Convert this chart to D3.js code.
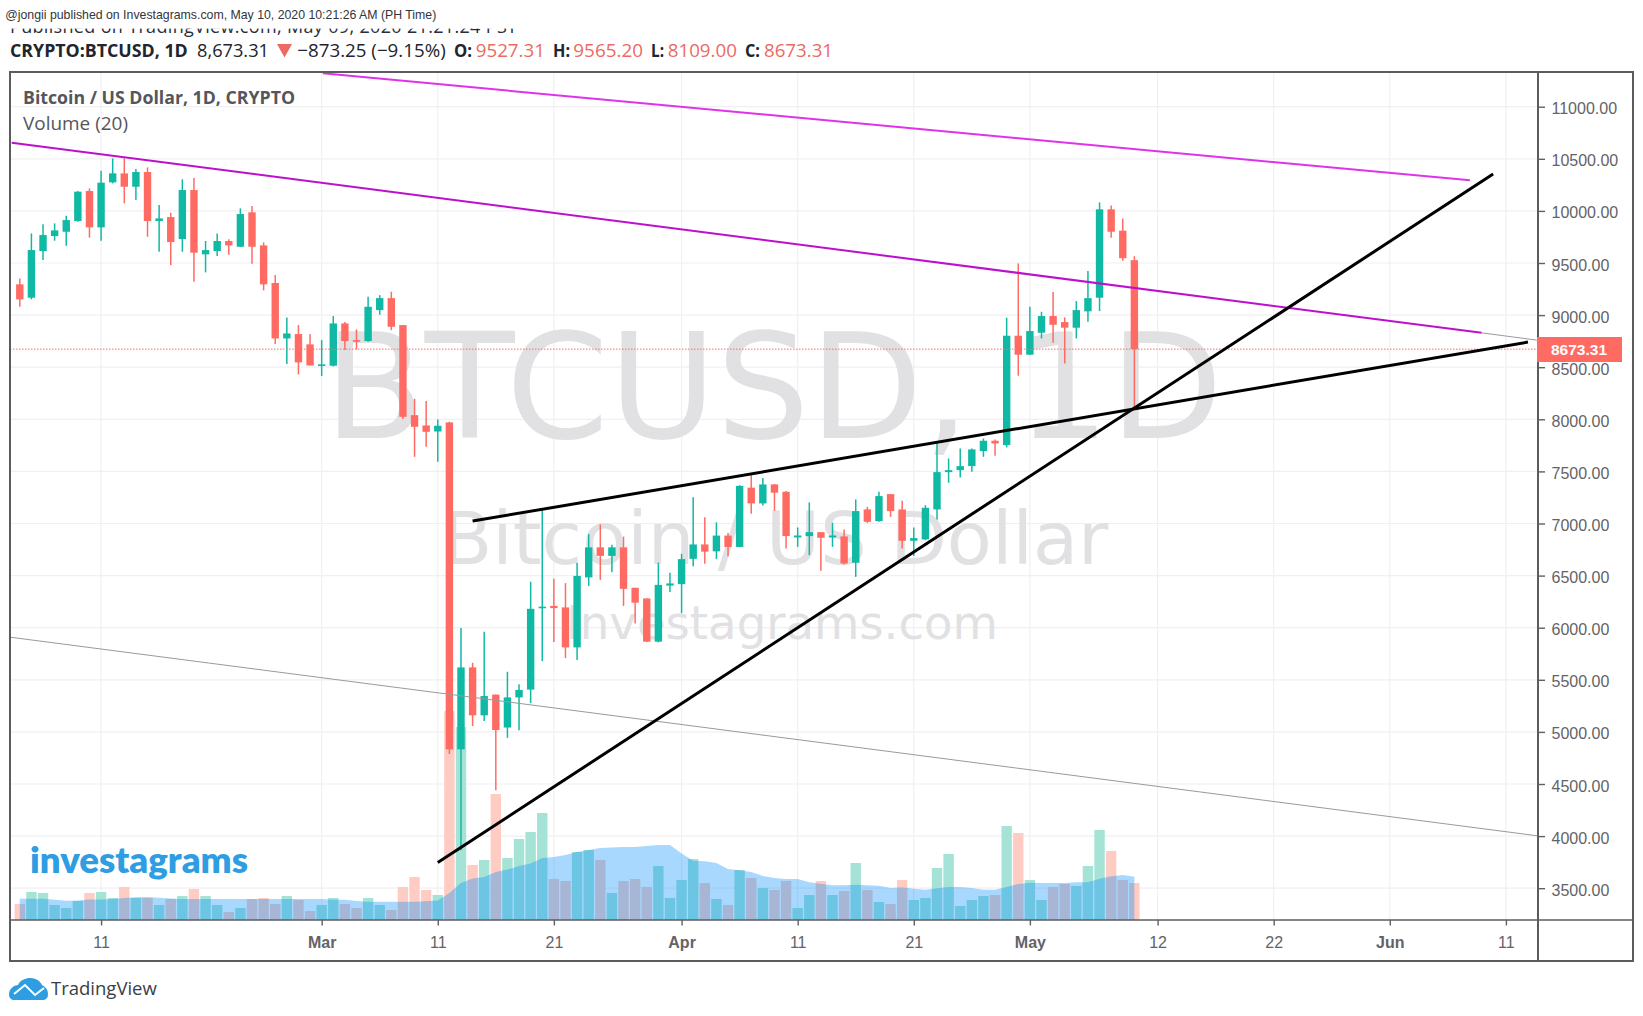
<!DOCTYPE html>
<html>
<head>
<meta charset="utf-8">
<title>BTCUSD 1D</title>
<script src="https://cdn.jsdelivr.net/npm/d3@7/dist/d3.min.js"></script>
<style>
  html, body { margin: 0; padding: 0; background: #fff; }
  svg { display: block; }
  text { font-family: "Open Sans", sans-serif; }
  .axis text { font-family: "Liberation Sans", Arial, sans-serif; font-size: 16px; fill: #636367; }
  .axis .domain { display: none; }
  .axis line { stroke: #5f5f63; stroke-width: 1.4; }
</style>
</head>
<body>
<svg id="chart" width="1643" height="1016"></svg>
<script>
// Daily BTC/USD candles, first session 4 Feb 2020, last session 10 May 2020.
const firstSession = Date.UTC(2020, 1, 4);
const opens = [9295,9167,9615,9759,9800,9903,10191,9842,10274,10360,10232,10373,9903,9941,9730,10200,9583,9615,9711,9656,9986,9669,9308,8776,8818,8719,8517,8514,8920,8760,8751,9048,9163,8904,8040,7941,7883,7970,4833,5619,5159,5358,5042,5331,5406,6191,6209,6195,5811,6483,6771,6689,6771,6383,6281,5866,6404,6418,6661,6799,6733,6884,6775,7344,7193,7375,7304,6866,6879,6917,6866,6876,6623,7135,7023,7282,7135,6834,6847,7135,7493,7512,7551,7695,7794,7752,8802,8620,8831,8991,8933,8879,9036,9167,10015,9810,9527.31];
const highs = [9352,9784,9871,9880,9954,10191,10216,10386,10504,10504,10402,10418,10056,9983,10303,10315,9711,9784,9727,10024,10047,9698,9384,8978,8904,8818,8760,8991,8933,8863,9176,9192,9224,8904,8197,8175,7999,7976,5996,5663,5962,5358,5577,5457,6442,7148,6469,6428,6624,6898,6991,6795,6874,6383,6281,6624,6528,6709,7251,7059,7011,6908,7368,7481,7436,7378,7311,6962,7202,6917,7007,6943,7231,7160,7304,7282,7218,6962,7176,7768,7624,7720,7720,7816,7807,8975,9496,9080,9032,9221,8978,9135,9423,10082,10053,9928,9565.20];
const lows = [9080,9151,9528,9714,9666,9896,9743,9714,10264,10072,10104,9752,9608,9480,9608,9320,9410,9567,9580,9653,9493,9237,8722,8530,8431,8517,8415,8507,8664,8671,8744,9003,8856,8002,7640,7736,7592,4789,3864,5056,5104,4439,4943,5015,5276,5680,5862,5708,5691,6401,6459,6531,6209,6041,5862,5859,6342,6140,6589,6613,6658,6685,6775,7094,7172,7121,6760,6776,6696,6546,6776,6607,6488,7006,7016,7064,6760,6687,6840,7039,7391,7442,7496,7640,7650,7730,8418,8616,8776,8735,8536,8776,8936,9039,9743,9522,8109];
const closes = [9151,9624,9768,9813,9912,10184,9842,10271,10360,10232,10373,9903,9928,9701,10200,9599,9624,9711,9669,9970,9656,9295,8776,8824,8546,8517,8527,8920,8751,8751,9080,9163,8888,8024,7928,7880,7938,4833,5619,5159,5344,5018,5331,5403,6181,6202,6188,5811,6497,6771,6689,6771,6373,6240,5866,6411,6425,6658,6799,6730,6884,6775,7361,7193,7375,7296,6879,6885,6917,6863,6885,6616,7119,7016,7263,7119,6834,6860,7151,7493,7512,7551,7711,7794,7768,8802,8620,8847,8991,8907,8879,9048,9163,10015,9800,9546,8673.31];

// Volume in arbitrary display units, with its 20-day average.
const volumes = [16,28,27,15,12,19,27,28,22,33,22,22,15,21,24,31,24,15,8,12,21,22,16,24,20,9,15,22,16,12,22,15,10,33,43,30,25,209,193,55,60,126,62,81,88,107,41,39,68,70,60,27,39,41,33,54,22,40,61,37,21,15,50,42,32,30,39,12,25,39,25,29,57,30,18,16,40,20,22,52,66,14,20,24,25,94,87,40,20,33,36,34,54,90,69,40,37];
const volumeAvg = [21.3,21.3,21.3,20.3,19.3,19.6,20.6,20.6,21,22,22.7,23,22.3,21.6,21,21,21,21,21,21,21,21,21,21,21,21,21,20.3,20.3,19,18.3,18.3,18.3,18.3,18.3,18.7,19.4,27,37,41.4,43,48,50.4,54,56.4,62,63,65,68,70,72,72.5,73,73,74,75,75,66.4,59.3,58.7,57,51,49.7,48,44,42,41,41,37.7,36.3,34.7,34.7,35.3,34.7,34.3,32,32.7,31.3,30.3,31.7,33,33,32,30.3,30.3,33,36,37.3,37,37,37,37.7,37.7,41.3,43.7,45,43.3];

const priceTicks = [3500,4000,4500,5000,5500,6000,6500,7000,7500,8000,8500,9000,9500,10000,10500,11000];
const timeTickDates = ["2020-02-11","2020-03-01","2020-03-11","2020-03-21","2020-04-01","2020-04-11","2020-04-21","2020-05-01","2020-05-12","2020-05-22","2020-06-01","2020-06-11"];
const timeTickLabels = ["11","Mar","11","21","Apr","11","21","May","12","22","Jun","11"];
const boldTimeLabels = ["Mar","Apr","May","Jun"];

// Hand-drawn trend lines as [session number, price] pairs.
const upperChannel = [[26.1,11320],[124.9,10293]];
const middleChannel = [[-0.7,10654],[125.9,8830]];
const middleChannelTail = [[125.9,8830],[130.66,8760]];
const lowerChannel = [[-0.84,5909],[130.7,4003]];
const wedgeResistance = [[39,7023],[129.9,8741]];
const wedgeSupport = [[36,3746],[126.9,10354]];

const lastPrice = 8673.31;

const RED = "#ff6b63", GREEN = "#10b9a3", SOFT_RED = "#ec6a63", INK = "#22242e";
const PANE = { left: 10, right: 1538, top: 72, bottom: 920, frameRight: 1633, frameBottom: 961 };

const sessionDate = i => new Date(firstSession + i * 864e5);
const x = d3.scaleUtc()
  .domain([sessionDate(0), new Date(Date.UTC(2020, 5, 11))])
  .range([19.8, 1505.9]);
const y = d3.scaleLinear().domain([3500, 11000]).range([888.2, 106.7]);
const yVol = d3.scaleLinear().domain([0, 209]).range([PANE.bottom, PANE.bottom - 209]);

const svg = d3.select("#chart");
svg.append("defs").append("clipPath").attr("id", "pane")
  .append("rect")
  .attr("x", PANE.left).attr("y", PANE.top)
  .attr("width", PANE.right - PANE.left).attr("height", PANE.bottom - PANE.top);

// Header strip: the stamp line is cut off by the white band of the publisher line.
svg.append("text").attr("x", 10).attr("y", 33)
  .attr("font-size", 18).attr("fill", "#2a2e39")
  .attr("textLength", 507).attr("lengthAdjust", "spacing")
  .text("Published on TradingView.com, May 09, 2020 21:21:24 PST");
svg.append("rect").attr("x", 0).attr("y", 0).attr("width", 1643).attr("height", 28.6).attr("fill", "#fff");
svg.append("text").attr("x", 5.3).attr("y", 19)
  .attr("font-size", 12.4).attr("fill", "#33343a")
  .attr("textLength", 431).attr("lengthAdjust", "spacingAndGlyphs")
  .style("font-family", "'Liberation Sans', Arial, sans-serif")
  .text("@jongii published on Investagrams.com, May 10, 2020 10:21:26 AM (PH Time)");

const header = [
  { x: 10, len: 177.7, t: "CRYPTO:BTCUSD, 1D", w: 700, c: INK },
  { x: 197, len: 72, t: "8,673.31", w: 400, c: INK },
  { x: 297.3, len: 148.4, t: "\u2212873.25 (\u22129.15%)", w: 400, c: INK },
  { x: 454, len: 18, t: "O:", w: 700, c: INK },
  { x: 475.7, len: 69.3, t: "9527.31", w: 400, c: SOFT_RED },
  { x: 553, len: 17, t: "H:", w: 700, c: INK },
  { x: 573.3, len: 69.7, t: "9565.20", w: 400, c: SOFT_RED },
  { x: 651, len: 13, t: "L:", w: 700, c: INK },
  { x: 667.7, len: 69.3, t: "8109.00", w: 400, c: SOFT_RED },
  { x: 745, len: 15, t: "C:", w: 700, c: INK },
  { x: 764, len: 69, t: "8673.31", w: 400, c: SOFT_RED }
];
svg.append("g").selectAll("text").data(header).join("text")
  .attr("x", d => d.x).attr("y", 56.7).attr("font-size", 18.5)
  .attr("font-weight", d => d.w).attr("fill", d => d.c)
  .attr("textLength", d => d.len).attr("lengthAdjust", "spacingAndGlyphs").text(d => d.t);
svg.append("path").attr("d", "M277,44H292L284.5,57.5Z").attr("fill", SOFT_RED);

// Grid
const grid = svg.append("g").attr("stroke", "#f0f0f3").attr("stroke-width", 1.2);
grid.selectAll("line.h").data(priceTicks).join("line").attr("class", "h")
  .attr("x1", PANE.left).attr("x2", PANE.right).attr("y1", d => y(d)).attr("y2", d => y(d));
grid.selectAll("line.v").data(timeTickDates).join("line").attr("class", "v")
  .attr("x1", d => x(new Date(d))).attr("x2", d => x(new Date(d)))
  .attr("y1", PANE.top).attr("y2", PANE.bottom);

// Symbol watermarks
const marks = [
  { t: "BTCUSD, 1D", cx: 773.5, by: 438, s: 147 },
  { t: "Bitcoin / US Dollar", cx: 775, by: 564, s: 73.7 },
  { t: "Investagrams.com", cx: 782, by: 639, s: 46.6 }
];
svg.append("g").selectAll("text").data(marks).join("text")
  .attr("x", d => d.cx).attr("y", d => d.by).attr("text-anchor", "middle")
  .attr("font-size", d => d.s).attr("fill", "#e1e1e3")
  .style("font-family", "'DejaVu Sans', Verdana, sans-serif")
  .text(d => d.t);

// Pane legend
svg.append("text").attr("x", 23).attr("y", 104)
  .attr("font-size", 17).attr("font-weight", 700).attr("fill", "#55565b")
  .attr("textLength", 272).attr("lengthAdjust", "spacingAndGlyphs")
  .text("Bitcoin / US Dollar, 1D, CRYPTO");
svg.append("text").attr("x", 23).attr("y", 130)
  .attr("font-size", 17.5).attr("fill", "#55565b")
  .attr("textLength", 105).attr("lengthAdjust", "spacingAndGlyphs")
  .text("Volume (20)");

// Brand text in the lower left of the pane
svg.append("text").attr("x", 30).attr("y", 873)
  .attr("font-size", 35).attr("font-weight", 800).attr("fill", "#2f9de2")
  .attr("textLength", 218).attr("lengthAdjust", "spacingAndGlyphs")
  .style("font-family", "Lato, sans-serif").text("investagrams");

const plot = svg.append("g").attr("clip-path", "url(#pane)");
const sessions = d3.range(opens.length);
const isUp = i => closes[i] >= opens[i];

// Volume histogram with the moving average laid over it
plot.append("g").selectAll("rect").data(sessions).join("rect")
  .attr("x", i => x(sessionDate(i)) - 5.2).attr("width", 10.4)
  .attr("y", i => yVol(volumes[i]))
  .attr("height", i => yVol(0) - yVol(volumes[i]))
  .attr("fill", i => isUp(i) ? "#a4e3d6" : "#ffccc4");

const avgArea = d3.area()
  .x(i => x(sessionDate(i))).y0(yVol(0)).y1(i => yVol(volumeAvg[i]));
plot.append("path").datum(sessions).attr("d", avgArea)
  .attr("fill", "rgb(0,141,250)").attr("fill-opacity", 0.34);

// Candlesticks
const candles = plot.append("g").selectAll("g").data(sessions).join("g")
  .attr("fill", i => isUp(i) ? GREEN : RED)
  .attr("stroke", i => isUp(i) ? GREEN : RED);
candles.append("line")
  .attr("x1", i => x(sessionDate(i))).attr("x2", i => x(sessionDate(i)))
  .attr("y1", i => y(highs[i])).attr("y2", i => y(lows[i]))
  .attr("stroke-width", 1.5);
candles.append("rect")
  .attr("x", i => x(sessionDate(i)) - 3.7).attr("width", 7.4)
  .attr("y", i => y(Math.max(opens[i], closes[i])))
  .attr("height", i => Math.max(1.6, Math.abs(y(opens[i]) - y(closes[i]))))
  .attr("stroke", "none");

// Last price line
plot.append("line")
  .attr("x1", PANE.left).attr("x2", PANE.right).attr("y1", y(lastPrice)).attr("y2", y(lastPrice))
  .attr("stroke", RED).attr("stroke-width", 1).attr("stroke-dasharray", "1.5 1.5");

// Trend lines
const trend = d3.line().x(d => x(sessionDate(d[0]))).y(d => y(d[1]));
const trendLines = [
  { pts: lowerChannel, c: "#9a9a9e", w: 1 },
  { pts: middleChannelTail, c: "#9a9a9e", w: 1 },
  { pts: upperChannel, c: "#df33ea", w: 2 },
  { pts: middleChannel, c: "#bd0fce", w: 2 },
  { pts: wedgeResistance, c: "#000", w: 3 },
  { pts: wedgeSupport, c: "#000", w: 3 }
];
svg.append("g").attr("clip-path", "url(#pane)").selectAll("path").data(trendLines).join("path")
  .attr("d", d => trend(d.pts)).attr("fill", "none")
  .attr("stroke", d => d.c).attr("stroke-width", d => d.w);

// Frame
const frame = svg.append("g").attr("fill", "none").attr("stroke", "#5c5c60").attr("stroke-width", 2);
frame.append("rect").attr("x", PANE.left).attr("y", PANE.top)
  .attr("width", PANE.frameRight - PANE.left).attr("height", PANE.frameBottom - PANE.top);
frame.append("line").attr("x1", PANE.right).attr("x2", PANE.right).attr("y1", PANE.top).attr("y2", PANE.frameBottom);
frame.append("line").attr("x1", PANE.left).attr("x2", PANE.frameRight).attr("y1", PANE.bottom).attr("y2", PANE.bottom).attr("stroke-width", 1.4);

// Axes
const priceAxis = svg.append("g").attr("class", "axis").attr("transform", `translate(${PANE.right},0)`)
  .call(d3.axisRight(y).tickValues(priceTicks).tickSize(7).tickPadding(6.5).tickFormat(d3.format(".2f")));
priceAxis.selectAll("text").attr("dy", "0.44em");
svg.append("g").attr("class", "axis").attr("transform", `translate(0,${PANE.bottom})`)
  .call(d3.axisBottom(x).tickValues(timeTickDates.map(d => new Date(d))).tickSize(5.5).tickPadding(11.5)
    .tickFormat((d, i) => timeTickLabels[i]))
  .selectAll("text").attr("font-weight", (d, i) => boldTimeLabels.includes(timeTickLabels[i]) ? 700 : 400);

// Last price tag
svg.append("rect").attr("x", 1537).attr("y", 337).attr("width", 85).attr("height", 25).attr("fill", RED);
svg.append("text").attr("x", 1551).attr("y", y(lastPrice) + 5.5)
  .attr("font-size", 15.5).attr("font-weight", 700).attr("fill", "#fff")
  .style("font-family", "'Liberation Sans', Arial, sans-serif")
  .text(d3.format(".2f")(lastPrice));

// Publisher badge under the frame
const badge = svg.append("g");
badge.append("path")
  .attr("d", "M9,994C9,989 14,985 18,985C20,980 26,978 30,978C36,978 40,981 42,985C46,987 48,990 48,994C48,998 46,1000 42,1000H15C11,1000 9,998 9,994Z")
  .attr("fill", "#2f9de2");
badge.append("path").attr("d", "M14,994L25,985L35,995L44,988")
  .attr("fill", "none").attr("stroke", "#fff").attr("stroke-width", 2);
badge.append("text").attr("x", 51).attr("y", 995).attr("font-size", 18.5).attr("fill", "#3a3e48").text("TradingView");
</script>
</body>
</html>
